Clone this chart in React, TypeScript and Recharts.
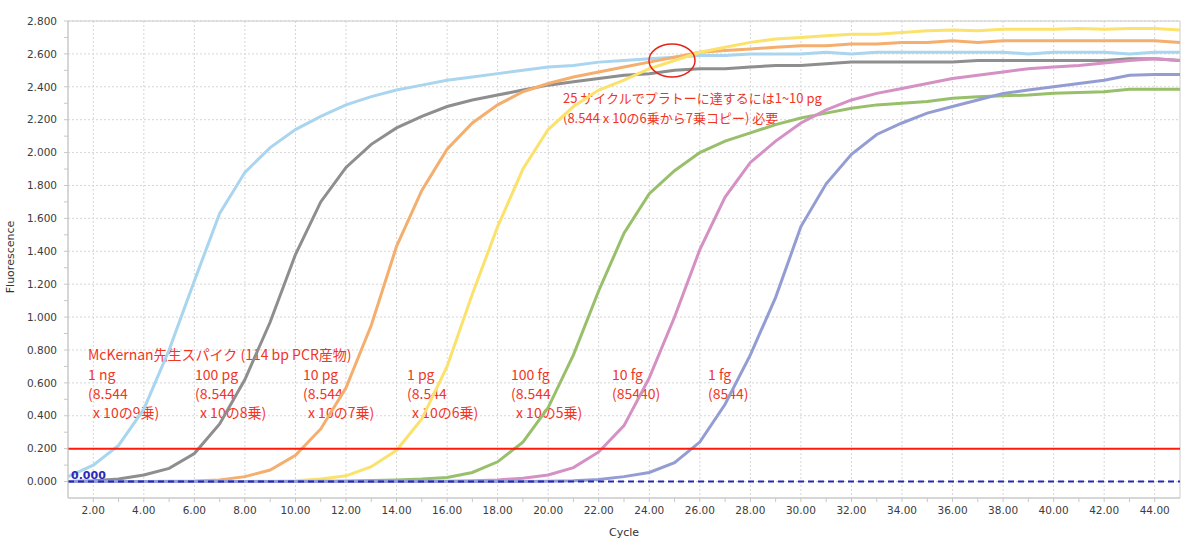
import { LineChart, Line, XAxis, YAxis, CartesianGrid, ReferenceLine, ReferenceArea, ReferenceDot } from 'recharts';

const cycles = [1, 2, 3, 4, 5, 6, 7, 8, 9, 10, 11, 12, 13, 14, 15, 16, 17, 18, 19, 20, 21, 22, 23, 24, 25, 26, 27, 28, 29, 30, 31, 32, 33, 34, 35, 36, 37, 38, 39, 40, 41, 42, 43, 44, 45];

// 1 ng
const ng1 = [0.03, 0.10, 0.22, 0.44, 0.80, 1.22, 1.63, 1.88, 2.03, 2.14, 2.22, 2.29, 2.34, 2.38, 2.41, 2.44, 2.46, 2.48, 2.50, 2.52, 2.53, 2.55, 2.56, 2.57, 2.58, 2.59, 2.59, 2.60, 2.60, 2.60, 2.61, 2.60, 2.61, 2.61, 2.61, 2.61, 2.61, 2.61, 2.60, 2.61, 2.61, 2.61, 2.60, 2.61, 2.61];
// 100 pg
const pg100 = [0.0, 0.005, 0.015, 0.04, 0.08, 0.17, 0.35, 0.62, 0.97, 1.38, 1.70, 1.91, 2.05, 2.15, 2.22, 2.28, 2.32, 2.35, 2.38, 2.41, 2.43, 2.45, 2.47, 2.48, 2.50, 2.51, 2.51, 2.52, 2.53, 2.53, 2.54, 2.55, 2.55, 2.55, 2.55, 2.55, 2.56, 2.56, 2.56, 2.56, 2.56, 2.56, 2.57, 2.57, 2.56];
// 10 pg
const pg10 = [0.0, 0.0, 0.0, 0.0, 0.002, 0.004, 0.01, 0.03, 0.07, 0.16, 0.32, 0.57, 0.95, 1.43, 1.77, 2.02, 2.18, 2.29, 2.37, 2.42, 2.46, 2.49, 2.52, 2.55, 2.58, 2.61, 2.62, 2.63, 2.64, 2.65, 2.65, 2.66, 2.66, 2.67, 2.67, 2.68, 2.67, 2.68, 2.68, 2.68, 2.68, 2.68, 2.68, 2.68, 2.67];
// 1 pg
const pg1 = [0.0, 0.0, 0.0, 0.0, 0.0, 0.0, 0.0, 0.001, 0.002, 0.005, 0.015, 0.035, 0.09, 0.19, 0.38, 0.70, 1.14, 1.55, 1.90, 2.14, 2.28, 2.38, 2.44, 2.51, 2.56, 2.61, 2.64, 2.67, 2.69, 2.70, 2.71, 2.72, 2.72, 2.73, 2.74, 2.745, 2.74, 2.75, 2.75, 2.75, 2.755, 2.75, 2.755, 2.755, 2.745];
// 100 fg
const fg100 = [0.0, 0.0, 0.0, 0.0, 0.0, 0.0, 0.0, 0.0, 0.0, 0.0, 0.002, 0.004, 0.006, 0.01, 0.015, 0.025, 0.055, 0.12, 0.24, 0.45, 0.77, 1.16, 1.51, 1.75, 1.89, 2.00, 2.07, 2.12, 2.17, 2.21, 2.24, 2.27, 2.29, 2.30, 2.31, 2.33, 2.34, 2.345, 2.35, 2.36, 2.365, 2.37, 2.385, 2.385, 2.385];
// 10 fg
const fg10 = [0.0, 0.0, 0.0, 0.0, 0.0, 0.0, 0.0, 0.0, 0.0, 0.0, 0.0, 0.0, 0.0, 0.0, 0.0, 0.002, 0.005, 0.01, 0.02, 0.04, 0.085, 0.18, 0.34, 0.63, 1.00, 1.41, 1.73, 1.94, 2.07, 2.18, 2.26, 2.32, 2.36, 2.39, 2.42, 2.45, 2.47, 2.49, 2.51, 2.52, 2.53, 2.545, 2.56, 2.57, 2.56];
// 1 fg
const fg1 = [0.0, 0.0, 0.0, 0.0, 0.0, 0.0, 0.0, 0.0, 0.0, 0.0, 0.0, 0.0, 0.0, 0.0, 0.0, 0.0, 0.0, 0.0, 0.0, 0.002, 0.005, 0.012, 0.03, 0.055, 0.115, 0.24, 0.47, 0.77, 1.12, 1.55, 1.81, 1.99, 2.11, 2.18, 2.24, 2.28, 2.32, 2.36, 2.38, 2.40, 2.42, 2.44, 2.47, 2.475, 2.475];

const xTicks = [2, 3, 4, 5, 6, 7, 8, 9, 10, 11, 12, 13, 14, 15, 16, 17, 18, 19, 20, 21, 22, 23, 24, 25, 26, 27, 28, 29, 30, 31, 32, 33, 34, 35, 36, 37, 38, 39, 40, 41, 42, 43, 44];
const xGrid = [2, 4, 6, 8, 10, 12, 14, 16, 18, 20, 22, 24, 26, 28, 30, 32, 34, 36, 38, 40, 42, 44];
const yTicks = [0, 0.1, 0.2, 0.3, 0.4, 0.5, 0.6, 0.7, 0.8, 0.9, 1.0, 1.1, 1.2, 1.3, 1.4, 1.5, 1.6, 1.7, 1.8, 1.9, 2.0, 2.1, 2.2, 2.3, 2.4, 2.5, 2.6, 2.7, 2.8];
const yGrid = [0, 0.2, 0.4, 0.6, 0.8, 1.0, 1.2, 1.4, 1.6, 1.8, 2.0, 2.2, 2.4, 2.6, 2.8];

const threshold = 0.2;
const plateauMark = { cycle: 24.9, value: 2.56 };

const series = [
  { key: 'ng1', values: ng1, color: '#a9d5ef' },
  { key: 'pg100', values: pg100, color: '#8e8e8e' },
  { key: 'pg10', values: pg10, color: '#f4ae6e' },
  { key: 'pg1', values: pg1, color: '#fbe26c' },
  { key: 'fg100', values: fg100, color: '#98bf6a' },
  { key: 'fg10', values: fg10, color: '#d590c4' },
  { key: 'fg1', values: fg1, color: '#949dd3' },
];

const data = cycles.map((c, i) => {
  const row: Record<string, number> = { cycle: c };
  series.forEach(s => { row[s.key] = s.values[i]; });
  return row;
});

// ラベル（各濃度）
const doseLabels = [
  { x: 88, lines: ['1 ng', '(8.544', 'x 10の9乗)'] },
  { x: 195, lines: ['100 pg', '(8.544', 'x 10の8乗)'] },
  { x: 303, lines: ['10 pg', '(8.544', 'x 10の7乗)'] },
  { x: 407, lines: ['1 pg', '(8.544', 'x 10の6乗)'] },
  { x: 511, lines: ['100 fg', '(8.544', 'x 10の5乗)'] },
  { x: 612, lines: ['10 fg', '(85440)'] },
  { x: 708, lines: ['1 fg', '(8544)'] },
];

const red = '#f2351f';
const tickStyle = { fontSize: 10.5, fill: '#3c3c3c', fontFamily: 'DejaVu Sans' };

export default function App() {
  return (
    <div style={{ position: 'absolute', left: 0, top: 0, width: 1200, height: 547, background: '#fff' }}>
      <LineChart width={1200} height={547} data={data} margin={{ top: 21, right: 20, bottom: 0, left: 0 }}>
        <CartesianGrid horizontalValues={yGrid} verticalValues={xGrid} stroke="#d6d6d6" strokeDasharray="2 2" />
        <XAxis
          dataKey="cycle"
          type="number"
          domain={[1, 45]}
          ticks={xTicks}
          interval={0}
          height={49}
          tickSize={4}
          tickMargin={5}
          stroke="#c8c8c8"
          tick={tickStyle}
          tickFormatter={(v: number) => (v % 2 === 0 ? v.toFixed(2) : '')}
          label={{ value: 'Cycle', position: 'insideBottom', offset: 11, fontSize: 11, fill: '#333', fontFamily: 'DejaVu Sans' }}
        />
        <YAxis
          type="number"
          domain={[-0.1, 2.8]}
          ticks={yTicks}
          interval={0}
          width={68}
          tickSize={4}
          tickMargin={7}
          stroke="#c8c8c8"
          tick={tickStyle}
          tickFormatter={(v: number) => (Math.round(v * 10) % 2 === 0 ? v.toFixed(3) : '')}
          label={{
            content: () => (
              <text x={14} y={257} transform="rotate(-90 14 257)" textAnchor="middle" fontSize={11} fill="#333" fontFamily="DejaVu Sans">
                Fluorescence
              </text>
            ),
          }}
        />
        <ReferenceArea x1={1} x2={45} y1={-0.1} y2={2.8} fill="none" stroke="#cccccc" />
        {series.map(s => (
          <Line
            key={s.key}
            type="linear"
            dataKey={s.key}
            stroke={s.color}
            strokeWidth={3}
            dot={false}
            isAnimationActive={false}
          />
        ))}
        <ReferenceLine y={threshold} stroke="#ff1a0a" strokeWidth={2} />
        <ReferenceLine
          y={0}
          stroke="#2626b8"
          strokeWidth={2}
          strokeDasharray="6 4"
          label={{ value: '0.000', position: 'insideBottomLeft', offset: 3, fill: '#2a2ab8', fontSize: 11, fontWeight: 'bold', fontFamily: 'DejaVu Sans' }}
        />
        <ReferenceDot
          x={plateauMark.cycle}
          y={plateauMark.value}
          r={20}
          shape={(p: any) => <ellipse cx={p.cx} cy={p.cy} rx={23} ry={16.5} fill="none" stroke="#e3241a" strokeWidth={1.5} />}
        />
        <g fontFamily="'Noto Sans CJK JP'" fill={red}>
          <text x={563} y={103} fontSize={13}>25 サイクルでプラトーに達するには1~10 pg</text>
          <text x={563} y={123} fontSize={13}>(8.544 x 10の6乗から7乗コピー) 必要</text>
          <text x={88} y={360} fontSize={14}>McKernan先生スパイク (114 bp PCR産物)</text>
          {doseLabels.map(d => (
            <g key={d.x}>
              {d.lines.map((l, i) => (
                <text key={i} x={i === 2 ? d.x + 5 : d.x} y={380 + i * 19} fontSize={14}>{l}</text>
              ))}
            </g>
          ))}
        </g>
      </LineChart>
    </div>
  );
}
